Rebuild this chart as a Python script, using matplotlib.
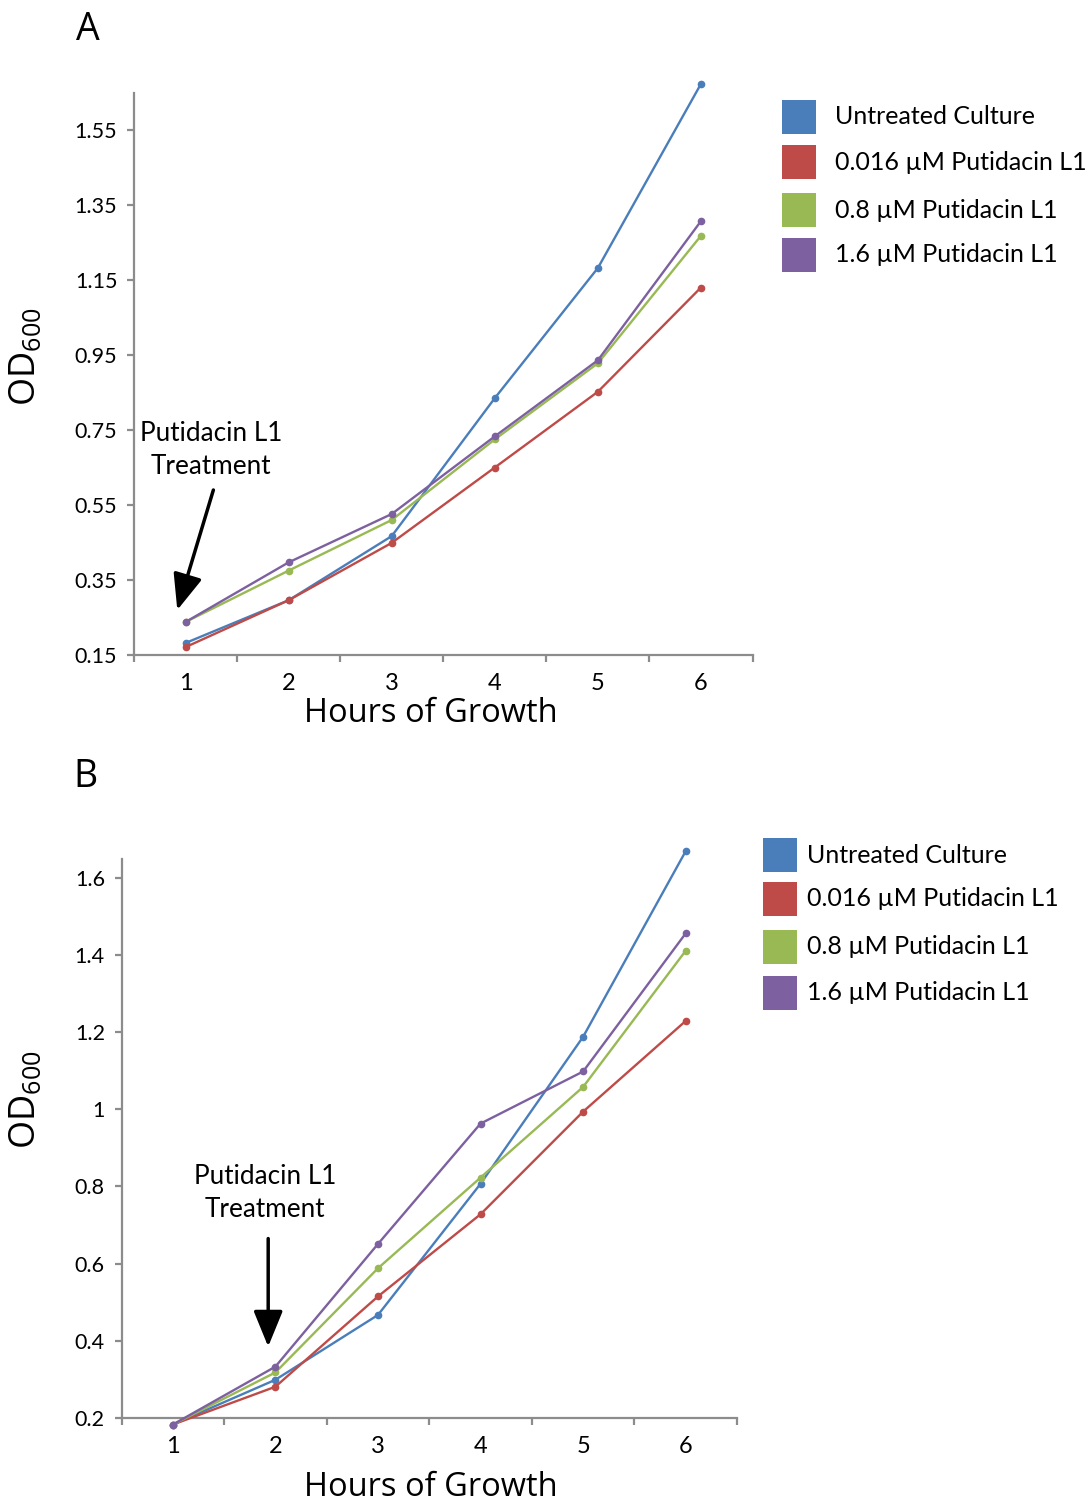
import matplotlib
matplotlib.use("Agg")
import matplotlib.pyplot as plt
from matplotlib.patches import Rectangle

plt.rcParams["font.family"] = ["Lato", "DejaVu Sans"]
plt.rcParams["mathtext.fontset"] = "custom"
plt.rcParams["mathtext.rm"] = "Open Sans"

# Growth data
hours = [1, 2, 3, 4, 5, 6]
series_names = ["Untreated Culture", "0.016 \u00b5M Putidacin L1",
                "0.8 \u00b5M Putidacin L1", "1.6 \u00b5M Putidacin L1"]
colors = ["#4A7EBB", "#BE4B48", "#98B954", "#7D60A0"]

od_a_untreated = [0.182, 0.296, 0.467, 0.835, 1.182, 1.673]
od_a_016 = [0.171, 0.296, 0.449, 0.650, 0.852, 1.130]
od_a_08 = [0.238, 0.375, 0.510, 0.725, 0.928, 1.268]
od_a_16 = [0.238, 0.397, 0.526, 0.733, 0.936, 1.307]

od_b_untreated = [0.183, 0.299, 0.467, 0.807, 1.188, 1.669]
od_b_016 = [0.183, 0.281, 0.515, 0.728, 0.994, 1.229]
od_b_08 = [0.183, 0.318, 0.588, 0.823, 1.058, 1.411]
od_b_16 = [0.183, 0.333, 0.651, 0.963, 1.098, 1.456]

yticks_a = [0.15, 0.35, 0.55, 0.75, 0.95, 1.15, 1.35, 1.55]
ytick_labels_a = ["0.15", "0.35", "0.55", "0.75", "0.95", "1.15", "1.35", "1.55"]
yticks_b = [0.2, 0.4, 0.6, 0.8, 1.0, 1.2, 1.4, 1.6]
ytick_labels_b = ["0.2", "0.4", "0.6", "0.8", "1", "1.2", "1.4", "1.6"]

W, H = 1091, 1506
fig = plt.figure(figsize=(W / 100, H / 100), dpi=100)
fig.patch.set_facecolor("white")

AXIS_GRAY = "#8C8C8C"


def px_axes(left, top, right, bottom):
    return fig.add_axes([left / W, 1 - bottom / H, (right - left) / W, (bottom - top) / H])


def style_axes(ax, ylim, yticks, ylabels):
    ax.set_xlim(0.5, 6.5)
    ax.set_ylim(*ylim)
    for s in ["top", "right"]:
        ax.spines[s].set_visible(False)
    for s in ["left", "bottom"]:
        ax.spines[s].set_color(AXIS_GRAY)
        ax.spines[s].set_linewidth(1.6)
    # boundaries between categories carry the tick marks
    ax.set_xticks([0.5 + i for i in range(7)])
    ax.set_xticklabels([])
    ax.set_xticks(hours, minor=True)
    ax.set_xticklabels([str(h) for h in hours], minor=True, fontsize=17)
    ax.tick_params(axis="x", which="major", length=5, width=1.6, color=AXIS_GRAY, direction="out")
    ax.tick_params(axis="x", which="minor", length=0, pad=13)
    ax.set_yticks(yticks)
    ax.set_yticklabels(ylabels, fontsize=15.5)
    ax.tick_params(axis="y", length=5, width=1.6, color=AXIS_GRAY, direction="out", pad=7)


def draw_series(ax, data):
    for vals, c in zip(data, colors):
        ax.plot(hours, vals, color=c, lw=1.7, marker="o", ms=4.5, clip_on=False, zorder=3)


def draw_legend(x_sq, ys, x_txt):
    for y, c, name in zip(ys, colors, series_names):
        fig.patches.append(Rectangle(((x_sq) / W, 1 - (y + 17) / H), 34 / W, 34 / H,
                                     transform=fig.transFigure, facecolor=c, edgecolor="none"))
        fig.text(x_txt / W, 1 - y / H, name, fontsize=18, va="center", ha="left")


ARROW = dict(arrowstyle="-|>,head_width=0.45,head_length=1.1",
             color="black", lw=2.5, mutation_scale=20, shrinkA=0, shrinkB=0)

# Panel A
ax_a = px_axes(134, 92.5, 752.5, 655)
style_axes(ax_a, (0.15, 1.65), yticks_a, ytick_labels_a)
draw_series(ax_a, [od_a_untreated, od_a_016, od_a_08, od_a_16])
ax_a.annotate("", xy=(0.92, 0.27), xytext=(1.27, 0.59), arrowprops=ARROW)
ax_a.text(1.25, 0.697, "Putidacin L1\nTreatment", ha="center", va="center",
          fontsize=18.8, linespacing=1.4)

fig.text(431 / W, 1 - 713 / H, "Hours of Growth", family="Open Sans", fontsize=23.5,
         ha="center", va="center")
fig.text(26 / W, 1 - 357 / H, r"OD$_{600}$", family="Open Sans", fontsize=26,
         rotation=90, ha="center", va="center")
fig.text(88 / W, 1 - 30 / H, "A", family="Open Sans", fontsize=27, ha="center", va="center")
draw_legend(782, [117, 162, 210, 255], 835)

# Panel B
ax_b = px_axes(121.5, 858.5, 737, 1418)
style_axes(ax_b, (0.2, 1.65), yticks_b, ytick_labels_b)
draw_series(ax_b, [od_b_untreated, od_b_016, od_b_08, od_b_16])
ax_b.annotate("", xy=(1.93, 0.385), xytext=(1.93, 0.665), arrowprops=ARROW)
ax_b.text(1.90, 0.783, "Putidacin L1\nTreatment", ha="center", va="center",
          fontsize=18.8, linespacing=1.4)

fig.text(431 / W, 1 - 1488 / H, "Hours of Growth", family="Open Sans", fontsize=23.5,
         ha="center", va="center")
fig.text(26 / W, 1 - 1100 / H, r"OD$_{600}$", family="Open Sans", fontsize=26,
         rotation=90, ha="center", va="center")
fig.text(85 / W, 1 - 777 / H, "B", family="Open Sans", fontsize=27, ha="center", va="center")
draw_legend(763, [855, 899, 947, 993], 807)

fig.savefig("out.png", dpi=100, facecolor="white")
